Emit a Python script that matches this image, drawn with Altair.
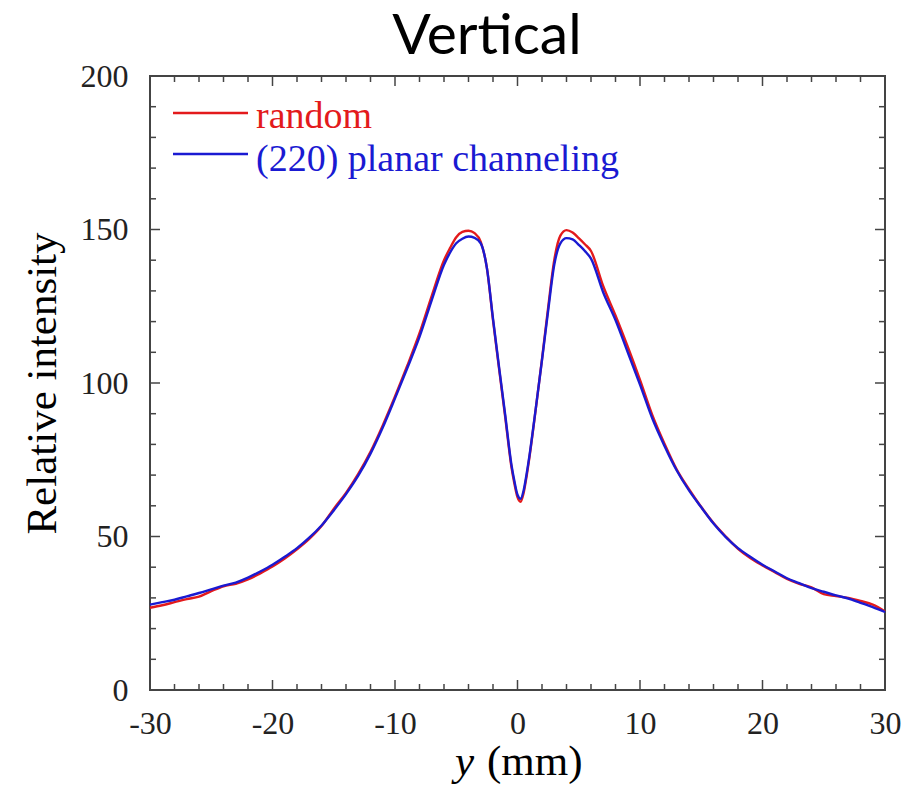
import altair as alt
import pandas as pd

# ---------------- data ----------------
TITLE = "Vertical"
SERIES = ["random", "(220) planar channeling"]

X_POS = [-30, -29, -28, -27, -26, -25, -24, -23, -22, -21, -20, -19, -18, -17, -16,
         -15, -14, -13, -12, -11, -10, -9, -8, -7, -6,
         -5.5, -5, -4.5, -4, -3.5, -3, -2.5, -2, -1.5, -1, -0.5, -0.25, 0, 0.25,
         0.5, 0.75, 1, 1.5, 2, 2.5, 3, 3.5, 4, 4.5, 5, 5.5,
         6, 7, 8, 9, 10, 11, 12, 13, 14, 15, 16, 17, 18, 19, 20, 21, 22, 23, 24,
         25, 26, 27, 28, 29, 30]

RANDOM = [26.8, 27.6, 28.6, 29.6, 30.4, 32.2, 33.8, 34.6, 36.0, 38.0, 40.2, 42.8, 45.8, 49.2, 53.4,
          59.0, 64.2, 70.4, 77.6, 86.2, 95.6, 105.6, 116.2, 128.4, 140.0,
          144.0, 147.5, 149.2, 149.6, 148.8, 146.0, 137.5, 120.5, 104.5, 88.8, 72.8, 67.2, 62.8, 61.3,
          64.2, 69.8, 76.5, 91.8, 107.8, 124.5, 140.0, 148.0, 149.8, 149.0, 147.2, 145.2,
          143.0, 131.5, 122.0, 111.8, 101.0, 89.6, 80.2, 71.8, 65.4, 59.6, 54.4, 50.0, 46.0, 43.0, 40.6,
          38.4, 36.2, 34.6, 33.4, 31.2, 30.6, 30.0, 29.0, 27.8, 25.6]

CHANNELING = [27.8, 28.6, 29.4, 30.5, 31.6, 32.8, 34.0, 35.0, 36.6, 38.6, 40.8, 43.4, 46.2, 49.6, 53.6,
              58.5, 63.8, 69.8, 77.0, 85.5, 95.0, 104.8, 115.0, 127.0, 138.5,
              142.5, 145.5, 147.0, 147.7, 147.3, 145.5, 137.5, 121.0, 105.0, 89.5, 73.5, 68.0, 63.6, 62.3,
              65.0, 70.5, 77.0, 92.0, 107.5, 123.5, 138.5, 145.5, 147.2, 146.8, 145.0, 143.0,
              140.5, 129.5, 120.5, 110.0, 99.5, 88.5, 79.5, 71.5, 65.0, 59.5, 54.2, 49.8, 46.2, 43.4, 40.8,
              38.6, 36.4, 34.8, 33.2, 32.0, 30.8, 29.8, 28.4, 27.0, 25.4]

X_MAJOR = [-30, -20, -10, 0, 10, 20, 30]
X_MINOR = [-28, -26, -24, -22, -18, -16, -14, -12, -8, -6, -4, -2,
           2, 4, 6, 8, 12, 14, 16, 18, 22, 24, 26, 28]
Y_MAJOR = [0, 50, 100, 150, 200]
Y_MINOR = [10, 20, 30, 40, 60, 70, 80, 90, 110, 120, 130, 140, 160, 170, 180, 190]

# ---------------- styling ----------------
W, H = 735, 614
RED = "#e31a1c"
BLUE = "#1a1ad2"
FRAME = "#444444"
SERIF = "Liberation Serif"
MAJ, MIN = 10, 6

df = pd.concat([
    pd.DataFrame({"x": X_POS, "v": RANDOM, "s": SERIES[0]}),
    pd.DataFrame({"x": X_POS, "v": CHANNELING, "s": SERIES[1]}),
])

xscale = alt.Scale(domain=[-30, 30], nice=False, zero=False)
yscale = alt.Scale(domain=[0, 200], nice=False, zero=False)

xaxis = alt.Axis(values=X_MAJOR, ticks=False, domain=False, grid=False,
                 labelFont=SERIF, labelFontSize=32, labelColor="#222222",
                 labelPadding=18, title=None, labelFlush=False,
                 labelExpr="'' + datum.value")
yaxis = alt.Axis(values=Y_MAJOR, ticks=False, domain=False, grid=False,
                 labelFont=SERIF, labelFontSize=32, labelColor="#222222",
                 labelPadding=22, title="Relative intensity",
                 titleFont=SERIF, titleFontSize=43, titleFontWeight="normal",
                 titleColor="black", titleX=-95, titleY=H / 2,
                 titleBaseline="alphabetic", titleAngle=270)

lines = alt.Chart(df).mark_line(strokeWidth=2.4, interpolate="monotone").encode(
    x=alt.X("x:Q", scale=xscale, axis=xaxis),
    y=alt.Y("v:Q", scale=yscale, axis=yaxis),
    color=alt.Color("s:N", scale=alt.Scale(domain=SERIES, range=[RED, BLUE]), legend=None),
    order=alt.Order("x:Q"),
    detail="s:N",
)

def xticks(vals, length):
    d = pd.DataFrame({"t": vals})
    bottom = alt.Chart(d).mark_rule(color=FRAME, strokeWidth=1.5).encode(
        x=alt.X("t:Q", scale=xscale, axis=xaxis), y=alt.value(H), y2=alt.value(H - length))
    top = alt.Chart(d).mark_rule(color=FRAME, strokeWidth=1.5).encode(
        x=alt.X("t:Q", scale=xscale, axis=xaxis), y=alt.value(0), y2=alt.value(length))
    return [bottom, top]

def yticks(vals, length):
    d = pd.DataFrame({"t": vals})
    left = alt.Chart(d).mark_rule(color=FRAME, strokeWidth=1.5).encode(
        y=alt.Y("t:Q", scale=yscale, axis=yaxis), x=alt.value(0), x2=alt.value(length))
    right = alt.Chart(d).mark_rule(color=FRAME, strokeWidth=1.5).encode(
        y=alt.Y("t:Q", scale=yscale, axis=yaxis), x=alt.value(W), x2=alt.value(W - length))
    return [left, right]

one = pd.DataFrame({"k": [0]})

leg_red = alt.Chart(one).mark_rule(color=RED, strokeWidth=2.4).encode(
    x=alt.value(23), x2=alt.value(98), y=alt.value(37))
leg_blue = alt.Chart(one).mark_rule(color=BLUE, strokeWidth=2.4).encode(
    x=alt.value(23), x2=alt.value(98), y=alt.value(78))
leg_red_t = alt.Chart(one).mark_text(font=SERIF, fontSize=38, color=RED, align="left",
                                     baseline="alphabetic").encode(
    x=alt.value(106), y=alt.value(52), text=alt.value(SERIES[0]))
leg_blue_t = alt.Chart(one).mark_text(font=SERIF, fontSize=38, color=BLUE, align="left",
                                      baseline="alphabetic").encode(
    x=alt.value(106), y=alt.value(95), text=alt.value(SERIES[1]))

xt_y = alt.Chart(one).mark_text(font=SERIF, fontSize=43, fontStyle="italic", color="black",
                                align="left", baseline="alphabetic").encode(
    x=alt.value(305), y=alt.value(699), text=alt.value("y"))
xt_mm = alt.Chart(one).mark_text(font=SERIF, fontSize=43, color="black",
                                 align="left", baseline="alphabetic").encode(
    x=alt.value(337), y=alt.value(699), text=alt.value("(mm)"))

title_t = alt.Chart(one).mark_text(font="Lato", fontSize=57, color="black",
                                   align="center", baseline="alphabetic").encode(
    x=alt.value(337), y=alt.value(-22), text=alt.value(TITLE))

layers = [lines] + xticks(X_MAJOR, MAJ) + xticks(X_MINOR, MIN) + yticks(Y_MAJOR, MAJ) + \
    yticks(Y_MINOR, MIN) + [leg_red, leg_blue, leg_red_t, leg_blue_t, xt_y, xt_mm, title_t]

chart = alt.layer(*layers).properties(
    width=W, height=H,
    background="white",
    autosize=alt.AutoSizeParams(type="none"),
    padding={"left": 142, "top": 68, "right": 20, "bottom": 95},
).configure_view(stroke=FRAME, strokeWidth=2)

chart.save("out.html", embed_options={"renderer": "svg", "actions": False})
